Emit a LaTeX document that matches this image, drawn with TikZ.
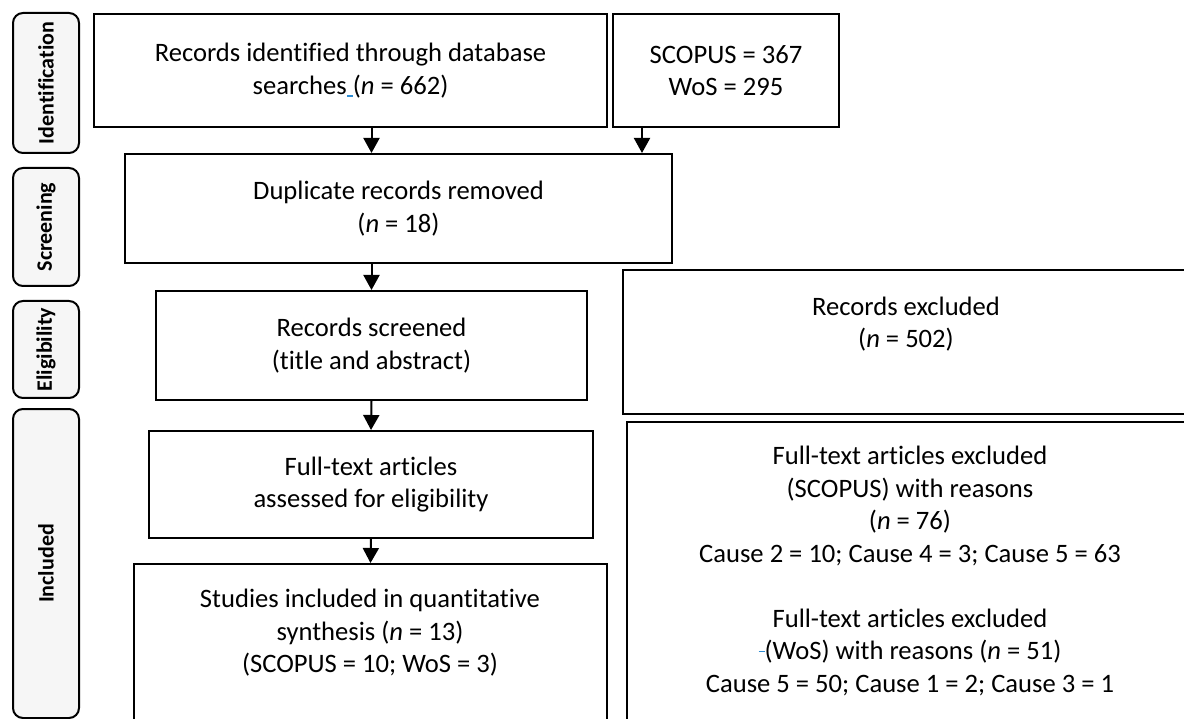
\documentclass[tikz,border=0pt]{standalone}
\usepackage{fontspec}
\setmainfont{Carlito}[Ligatures=NoCommon]
\usetikzlibrary{arrows.meta}

\definecolor{markblue}{RGB}{46,140,210}
\newcommand\markgap{\textcolor{markblue}{\rule[-2.5pt]{6pt}{1.3pt}}}
\newcommand\markdash{\textcolor{markblue}{\rule[7.5pt]{6pt}{1.3pt}}}

\tikzset{
  box/.style={draw, line width=2pt, anchor=north west, inner sep=0pt, align=center,
    font=\fontsize{26.6}{32.5}\selectfont},
  txt/.style={align=center, inner sep=0pt, font=\fontsize{26.6}{32.5}\selectfont},
  phase/.style={draw, line width=2pt, fill=gray!7, rounded corners=10pt,
    anchor=north west, inner sep=0pt, minimum width=66pt,
    font=\fontsize{22}{26}\selectfont\bfseries},
  arr/.style={line width=2pt, -{Triangle[width=16pt,length=15pt]}},
}

\begin{document}
\begin{tikzpicture}[x=1pt,y=-1pt]
  \useasboundingbox (0,0) rectangle (1184,719);
  \clip (0,0) rectangle (1184,719);

  % phases
  \node[phase, minimum height=140pt] (ident) at (12,12) {\rotatebox{90}{Identification}};
  \node[phase, minimum height=118pt] (screen) at (12,167) {\rotatebox{90}{Screening}};
  \node[phase, minimum height=97pt] (elig) at (12,300) {\rotatebox{90}{Eligibility}};
  \node[phase, minimum height=309pt] (incl) at (12,408) {\rotatebox{90}{Included}};

  % flow boxes
  \node[box, minimum width=513pt, minimum height=113pt] (rec) at (93,13)
    {Records identified through database\\searches\markgap(\textit{n} = 662)};
  \node[box, minimum width=226pt, minimum height=113pt] (src) at (612,13)
    {SCOPUS = 367\\WoS = 295};
  \node[box, minimum width=547pt, minimum height=109pt] (dup) at (124,153)
    {Duplicate records removed\\(\textit{n} = 18)};
  \node[box, minimum width=431pt, minimum height=109pt] (scr) at (155,290)
    {Records screened\\(title and abstract)};
  \node[box, minimum width=444pt, minimum height=107pt] (ful) at (148,430)
    {Full-text articles\\assessed for eligibility};
  \node[box, minimum width=473pt, minimum height=200pt] (inc) at (133,563) {};
  \node[txt] (inctext) at (370,633)
    {Studies included in quantitative\\synthesis (\textit{n} = 13)\\(SCOPUS = 10; WoS = 3)};

  % exclusions
  \node[box, minimum width=600pt, minimum height=144pt] (exc) at (622,269) {};
  \node[txt] (exctext) at (906,324) {Records excluded\\(\textit{n} = 502)};
  \node[box, minimum width=600pt, minimum height=350pt] (fex) at (626,421) {};
  \node[txt] (fextext) at (910,571)
    {Full-text articles excluded\\(SCOPUS) with reasons\\(\textit{n} = 76)\\
     Cause 2 = 10; Cause 4 = 3; Cause 5 = 63\\[32.5pt]
     Full-text articles excluded\\\markdash(WoS) with reasons (\textit{n} = 51)\\
     Cause 5 = 50; Cause 1 = 2; Cause 3 = 1};

  % arrows
  \draw[arr] (rec.south -| scr.north) -- (dup.north -| scr.north);
  \draw[arr] ([xshift=30pt]src.south west) -- ([xshift=30pt]src.south west |- dup.north);
  \draw[arr] (dup.south -| scr.north) -- (scr.north);
  \draw[arr] (scr.south) -- (ful.north);
  \draw[arr] (ful.south) -- (inc.north);
\end{tikzpicture}
\end{document}
